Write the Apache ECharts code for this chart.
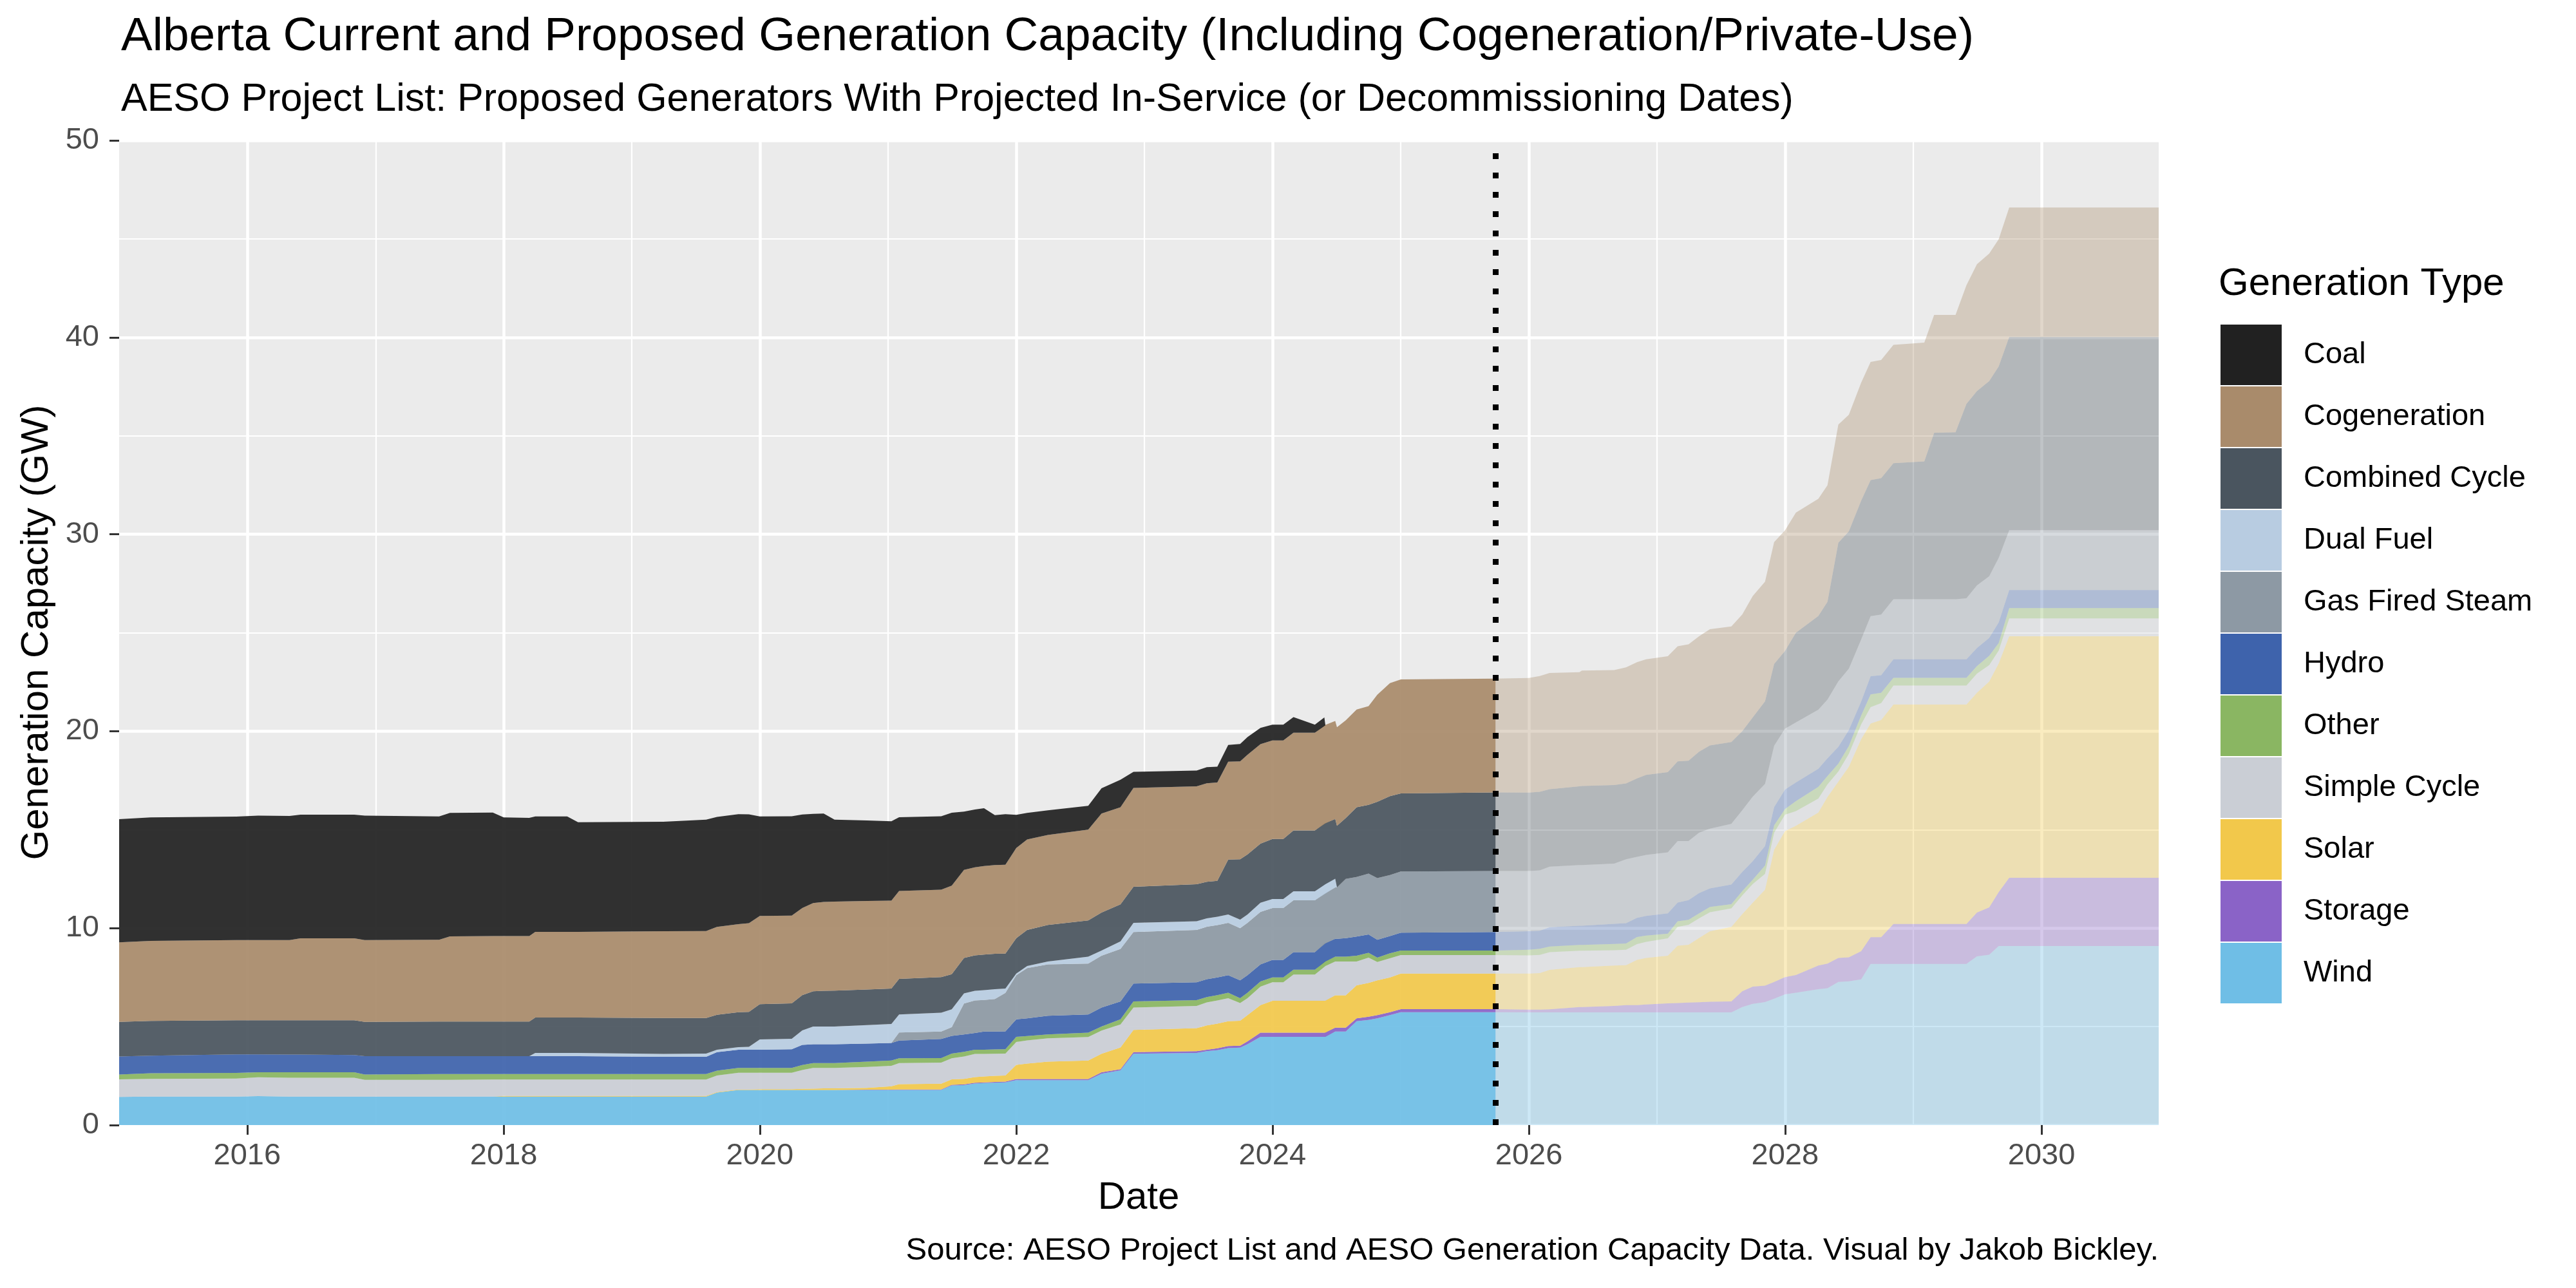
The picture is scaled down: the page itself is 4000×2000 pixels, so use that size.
<!DOCTYPE html>
<html>
<head>
<meta charset="utf-8">
<title>Alberta Current and Proposed Generation Capacity</title>
<script src="https://cdn.jsdelivr.net/npm/echarts@6/dist/echarts.min.js"></script>
<style>
  html, body { margin: 0; padding: 0; background: #fff; }
  #chart { width: 4000px; height: 2000px; }
</style>
</head>
<body>
<div id="chart"></div>
<script>
// historical capacity (GW per generation type)
const histDates = [
  '2015-01-01', '2015-04-01', '2015-12-01', '2016-02-01', '2016-05-01', '2016-06-01', '2016-11-01', '2016-12-01', '2017-07-01', '2017-08-01',
  '2017-12-01', '2018-01-01', '2018-03-15', '2018-04-01', '2018-07-01', '2018-08-01', '2019-04-01', '2019-08-01', '2019-09-01', '2019-11-01',
  '2019-12-01', '2020-01-01', '2020-04-01', '2020-05-01', '2020-06-01', '2020-07-01', '2020-08-01', '2020-11-01', '2021-01-10', '2021-02-01',
  '2021-06-01', '2021-07-01', '2021-08-05', '2021-09-05', '2021-10-01', '2021-11-01', '2021-12-01', '2022-01-01', '2022-02-01', '2022-04-01',
  '2022-07-25', '2022-09-01', '2022-10-25', '2022-12-01', '2023-05-30', '2023-06-28', '2023-07-28', '2023-08-28', '2023-10-01', '2023-10-22',
  '2023-11-28', '2024-01-01', '2024-02-01', '2024-03-01', '2024-05-01', '2024-05-28', '2024-05-31', '2024-06-28', '2024-07-03', '2024-07-28',
  '2024-08-28', '2024-10-01', '2024-10-26', '2024-12-01', '2025-01-01', '2025-09-28',
];
const histWind = [
  1.43, 1.45, 1.45, 1.47, 1.45, 1.45, 1.45, 1.45, 1.45, 1.45,
  1.45, 1.45, 1.45, 1.45, 1.45, 1.45, 1.45, 1.45, 1.65, 1.78,
  1.78, 1.78, 1.78, 1.78, 1.78, 1.78, 1.78, 1.78, 1.78, 1.78,
  1.78, 2.01, 2.03, 2.11, 2.13, 2.15, 2.17, 2.28, 2.28, 2.28,
  2.28, 2.61, 2.78, 3.62, 3.66, 3.75, 3.80, 3.91, 3.93, 4.10,
  4.48, 4.48, 4.48, 4.48, 4.48, 4.48, 4.48, 4.75, 4.75, 4.75,
  5.27, 5.34, 5.42, 5.58, 5.73, 5.73,
];
const histStorage = [
  0, 0, 0, 0, 0, 0, 0, 0, 0, 0,
  0, 0, 0, 0, 0, 0, 0, 0, 0, 0,
  0, 0, 0, 0, 0, 0, 0, 0.02, 0.02, 0.03,
  0.03, 0.03, 0.04, 0.04, 0.04, 0.04, 0.04, 0.06, 0.06, 0.06,
  0.06, 0.07, 0.06, 0.08, 0.09, 0.08, 0.10, 0.10, 0.10, 0.15,
  0.21, 0.21, 0.21, 0.21, 0.21, 0.21, 0.21, 0.20, 0.20, 0.20,
  0.15, 0.16, 0.16, 0.15, 0.16, 0.16,
];
const histSolar = [
  0, 0, 0, 0, 0, 0, 0, 0, 0, 0,
  0, 0.03, 0.03, 0.03, 0.03, 0.03, 0.03, 0.03, 0.03, 0.03,
  0.03, 0.04, 0.04, 0.06, 0.07, 0.08, 0.08, 0.09, 0.17, 0.27,
  0.29, 0.28, 0.28, 0.29, 0.30, 0.31, 0.31, 0.72, 0.78, 0.88,
  0.94, 0.94, 1.10, 1.13, 1.17, 1.23, 1.25, 1.26, 1.27, 1.33,
  1.40, 1.62, 1.62, 1.62, 1.62, 1.62, 1.62, 1.64, 1.64, 1.64,
  1.68, 1.72, 1.77, 1.77, 1.80, 1.80,
];
const histSimpleCycle = [
  0.89, 0.90, 0.91, 0.96, 0.95, 0.95, 0.95, 0.85, 0.85, 0.85,
  0.86, 0.83, 0.83, 0.83, 0.83, 0.83, 0.83, 0.83, 0.84, 0.85,
  0.85, 0.84, 0.84, 0.96, 1.05, 1.04, 1.04, 1.06, 1.04, 1.07,
  1.07, 1.07, 1.13, 1.17, 1.14, 1.12, 1.11, 1.16, 1.18, 1.19,
  1.19, 1.18, 1.17, 1.14, 1.13, 1.17, 1.18, 1.17, 0.90, 0.86,
  0.94, 0.94, 0.94, 1.33, 1.33, 1.77, 1.77, 1.72, 1.72, 1.72,
  1.21, 1.28, 0.93, 0.97, 0.94, 0.94,
];
const histOther = [
  0.25, 0.28, 0.29, 0.25, 0.28, 0.28, 0.28, 0.27, 0.29, 0.29,
  0.28, 0.28, 0.28, 0.28, 0.28, 0.28, 0.28, 0.28, 0.24, 0.24,
  0.24, 0.24, 0.24, 0.25, 0.25, 0.25, 0.25, 0.27, 0.27, 0.24,
  0.23, 0.24, 0.24, 0.22, 0.22, 0.22, 0.22, 0.26, 0.22, 0.19,
  0.22, 0.20, 0.26, 0.31, 0.29, 0.27, 0.27, 0.28, 0.24, 0.28,
  0.26, 0.25, 0.25, 0.25, 0.25, 0.23, 0.23, 0.24, 0.24, 0.24,
  0.29, 0.25, 0.22, 0.25, 0.23, 0.23,
];
const histHydro = [
  0.91, 0.89, 0.94, 0.91, 0.90, 0.90, 0.88, 0.93, 0.91, 0.91,
  0.91, 0.91, 0.91, 0.91, 0.91, 0.91, 0.88, 0.88, 0.94, 0.93,
  0.93, 0.93, 0.95, 1.02, 0.95, 0.95, 0.95, 0.92, 0.89, 0.90,
  0.97, 0.90, 0.88, 0.85, 0.92, 0.91, 0.91, 0.89, 0.90, 0.95,
  0.93, 0.97, 0.91, 0.91, 0.91, 0.91, 0.90, 0.89, 0.91, 0.89,
  0.87, 0.89, 0.89, 0.89, 0.89, 0.91, 0.91, 0.91, 0.91, 0.94,
  0.97, 0.93, 0.91, 0.88, 0.91, 0.94,
];
const histGasSteam = [
  0, 0, 0, 0, 0, 0, 0, 0, 0, 0,
  0, 0, 0, 0, 0, 0, 0, 0, 0, 0,
  0, 0, 0, 0, 0, 0, 0, 0, 0, 0.41,
  0.38, 0.44, 1.57, 1.65, 1.60, 1.65, 1.95, 2.24, 2.55, 2.61,
  2.58, 2.63, 2.66, 2.61, 2.66, 2.66, 2.65, 2.66, 2.65, 2.66,
  2.66, 2.63, 2.63, 2.63, 2.63, 2.54, 2.54, 2.61, 2.61, 3.01,
  3.03, 3.09, 3.13, 3.10, 3.11, 3.10,
];
const histDualFuel = [
  0, 0, 0, 0, 0, 0, 0, 0, 0, 0,
  0, 0, 0, 0.16, 0.16, 0.16, 0.14, 0.16, 0.13, 0.13,
  0.14, 0.52, 0.53, 0.74, 0.90, 0.90, 0.90, 0.94, 0.96, 0.92,
  0.96, 0.91, 0.52, 0.49, 0.50, 0.50, 0.22, 0.08, 0.11, 0.15,
  0.35, 0.26, 0.39, 0.47, 0.44, 0.43, 0.43, 0.42, 0.43, 0.42,
  0.47, 0.46, 0.46, 0.46, 0.46, 0.47, 0.47, 0.44, 0, 0,
  0, 0, 0, 0, 0, 0,
];
const histCombinedCycle = [
  1.76, 1.77, 1.73, 1.73, 1.74, 1.74, 1.76, 1.74, 1.76, 1.76,
  1.76, 1.76, 1.76, 1.80, 1.80, 1.80, 1.83, 1.81, 1.77, 1.77,
  1.78, 1.79, 1.80, 1.79, 1.79, 1.82, 1.83, 1.80, 1.80, 1.80,
  1.80, 1.78, 1.80, 1.80, 1.81, 1.80, 1.78, 1.80, 1.83, 1.85,
  1.84, 1.93, 1.88, 1.83, 1.88, 1.85, 1.82, 2.79, 3.07, 3.05,
  3.00, 3.05, 3.05, 3.09, 3.09, 3.09, 3.09, 3.03, 3.13, 3.09,
  3.54, 3.49, 3.88, 4.00, 3.96, 3.99,
];
const histCogeneration = [
  4.04, 4.06, 4.07, 4.07, 4.07, 4.16, 4.16, 4.15, 4.15, 4.32,
  4.34, 4.34, 4.34, 4.35, 4.35, 4.35, 4.40, 4.41, 4.46, 4.47,
  4.50, 4.48, 4.46, 4.42, 4.48, 4.51, 4.52, 4.50, 4.47, 4.47,
  4.44, 4.50, 4.47, 4.47, 4.49, 4.50, 4.51, 4.58, 4.59, 4.57,
  4.61, 5.03, 4.93, 5.02, 4.97, 5.01, 5.00, 4.97, 4.97, 5.06,
  5.05, 5.00, 5.00, 4.96, 4.96, 4.98, 4.98, 4.98, 5.00, 4.96,
  4.96, 5.01, 5.43, 5.74, 5.79, 5.78,
];
const histCoal = [
  6.25, 6.27, 6.27, 6.32, 6.31, 6.28, 6.28, 6.32, 6.26, 6.27,
  6.27, 6.02, 6.00, 5.86, 5.86, 5.57, 5.56, 5.66, 5.59, 5.59,
  5.53, 5.05, 5.04, 4.75, 4.53, 4.49, 4.16, 4.09, 4.03, 3.74,
  3.73, 3.70, 2.96, 2.93, 2.94, 2.54, 2.57, 1.68, 1.35, 1.25,
  1.21, 1.28, 1.40, 0.82, 0.80, 0.81, 0.80, 0.85, 0.88, 0.90,
  0.83, 0.80, 0.80, 0.80, 0.41, 0.40, 0, 0, 0, 0,
  0, 0, 0, 0, 0, 0,
];

// proposed projects (AESO project list), from the cut-off date onwards
const cutoffDate = '2025-09-28';
const projDates = [
  '2025-09-28', '2026-01-01', '2026-02-01', '2026-03-01', '2026-05-25', '2026-06-01', '2026-09-01', '2026-10-05', '2026-11-05', '2026-12-01',
  '2027-02-01', '2027-03-01', '2027-04-01', '2027-05-01', '2027-06-01', '2027-08-01', '2027-09-01', '2027-10-01', '2027-11-05', '2027-12-01',
  '2028-01-01', '2028-02-01', '2028-04-05', '2028-05-01', '2028-06-01', '2028-07-01', '2028-08-05', '2028-09-01', '2028-10-01', '2028-11-05',
  '2029-02-01', '2029-03-01', '2029-05-01', '2029-06-01', '2029-07-01', '2029-08-05', '2029-09-01', '2029-10-01', '2030-12-01',
];
const projWind = [
  5.73, 5.72, 5.72, 5.72, 5.72, 5.72, 5.72, 5.72, 5.72, 5.72,
  5.72, 5.72, 5.72, 5.72, 5.72, 5.72, 5.99, 6.16, 6.25, 6.42,
  6.64, 6.72, 6.90, 6.95, 7.27, 7.30, 7.40, 8.18, 8.18, 8.18,
  8.18, 8.18, 8.18, 8.18, 8.57, 8.65, 9.09, 9.09, 9.09,
];
const projStorage = [
  0.16, 0.14, 0.14, 0.16, 0.27, 0.27, 0.33, 0.37, 0.37, 0.40,
  0.46, 0.48, 0.50, 0.52, 0.54, 0.56, 0.80, 0.87, 0.83, 0.85,
  0.87, 0.90, 1.20, 1.25, 1.22, 1.22, 1.43, 1.36, 1.36, 2.03,
  2.03, 2.03, 2.03, 2.03, 2.22, 2.40, 2.74, 3.47, 3.47,
];
const projSolar = [
  1.80, 1.83, 1.86, 2.00, 2.03, 2.03, 2.05, 2.03, 2.30, 2.37,
  2.42, 2.91, 2.94, 3.26, 3.58, 3.78, 3.92, 4.26, 4.87, 6.71,
  7.42, 7.58, 7.77, 8.46, 8.95, 9.68, 10.77, 10.85, 11.03, 11.14,
  11.14, 11.14, 11.14, 11.14, 11.16, 11.47, 11.61, 12.26, 12.26,
];
const projSimpleCycle = [
  0.94, 0.93, 0.92, 0.90, 0.83, 0.83, 0.78, 0.78, 0.80, 0.81,
  0.88, 0.95, 1.01, 1.00, 0.97, 0.94, 0.95, 0.95, 0.80, 0.87,
  0.83, 0.74, 0.71, 0.64, 0.51, 0.65, 0.75, 0.83, 0.86, 0.97,
  0.97, 0.97, 0.97, 0.97, 0.97, 0.84, 0.65, 0.91, 0.91,
];
const projOther = [
  0.23, 0.28, 0.31, 0.29, 0.30, 0.30, 0.32, 0.32, 0.36, 0.32,
  0.24, 0.29, 0.25, 0.25, 0.27, 0.22, 0.22, 0.22, 0.43, 0.37,
  0.29, 0.51, 0.60, 0.42, 0.40, 0.40, 0.45, 0.65, 0.52, 0.39,
  0.39, 0.39, 0.39, 0.39, 0.39, 0.47, 0.39, 0.52, 0.52,
];
const projHydro = [
  0.94, 0.94, 0.92, 0.98, 0.97, 0.97, 1.02, 1.03, 0.97, 1.00,
  1.03, 0.95, 1.00, 1.03, 0.94, 0.99, 0.97, 0.94, 0.99, 0.93,
  0.99, 0.95, 0.91, 0.90, 0.85, 0.81, 0.70, 0.92, 0.89, 0.94,
  0.94, 0.94, 0.94, 0.94, 0.91, 0.91, 1.04, 0.92, 0.92,
];
const projGasSteam = [
  3.10, 3.06, 3.06, 3.07, 3.08, 3.08, 3.06, 3.25, 3.10, 3.10,
  3.10, 3.12, 3.00, 3.07, 3.03, 3.09, 3.13, 3.28, 3.15, 3.11,
  3.09, 3.05, 3.00, 2.99, 3.33, 3.12, 3.16, 3.05, 3.08, 3.05,
  3.05, 3.05, 3.05, 3.10, 3.18, 3.13, 3.28, 3.04, 3.04,
];
const projCombinedCycle = [
  3.99, 3.98, 3.99, 3.93, 4.00, 4.02, 3.99, 3.85, 3.98, 4.06,
  4.07, 4.05, 4.08, 4.11, 4.23, 4.15, 4.02, 4.02, 4.20, 4.15,
  3.95, 4.55, 4.76, 4.96, 7.04, 6.97, 7.04, 6.91, 6.93, 6.91,
  7.00, 8.45, 8.48, 9.87, 9.87, 9.91, 9.72, 9.81, 9.81,
];
const projCogeneration = [
  5.78, 5.82, 5.88, 5.91, 5.80, 5.86, 5.83, 5.89, 5.90, 5.87,
  5.89, 5.84, 5.91, 5.86, 5.90, 5.87, 5.92, 6.16, 6.07, 6.19,
  6.12, 6.10, 5.95, 5.92, 6.00, 5.92, 6.00, 6.00, 6.00, 6.01,
  6.03, 5.99, 5.96, 6.02, 6.44, 6.47, 6.46, 6.57, 6.57,
];

const typeNames = ['Wind', 'Storage', 'Solar', 'Simple Cycle', 'Other', 'Hydro',
  'Gas Fired Steam', 'Dual Fuel', 'Combined Cycle', 'Cogeneration', 'Coal'];
const histSeries = [histWind, histStorage, histSolar, histSimpleCycle, histOther, histHydro,
  histGasSteam, histDualFuel, histCombinedCycle, histCogeneration, histCoal];
const projSeries = [projWind, projStorage, projSolar, projSimpleCycle, projOther, projHydro,
  projGasSteam, null, projCombinedCycle, projCogeneration, null];
const axisStart = '2015-01-01';
const axisEnd = '2030-12-01';
const majorYears = ['2016-01-01', '2018-01-01', '2020-01-01', '2022-01-01', '2024-01-01', '2026-01-01', '2028-01-01', '2030-01-01'];
const minorYears = ['2017-01-01', '2019-01-01', '2021-01-01', '2023-01-01', '2025-01-01', '2027-01-01', '2029-01-01'];

const palette = {
  'Coal': '#212121',
  'Cogeneration': '#A98B6B',
  'Combined Cycle': '#4A555F',
  'Dual Fuel': '#B8CCE1',
  'Gas Fired Steam': '#8D99A4',
  'Hydro': '#3E63AC',
  'Other': '#8AB662',
  'Simple Cycle': '#CACED5',
  'Solar': '#F2C84B',
  'Storage': '#8A63C7',
  'Wind': '#6FBEE6',
};
const font = "'Liberation Sans', Arial, sans-serif";

// every date as UTC milliseconds so the time axis and the tick axes line up
const ts = (s) => Date.parse(s + 'T00:00:00Z');

const makeArea = (name, dates, values, stack, opacity) => ({
  name,
  type: 'line',
  xAxisIndex: 0,
  stack,
  data: dates.map((d, i) => [ts(d), values[i]]),
  symbol: 'none',
  showSymbol: false,
  lineStyle: { width: 0 },
  itemStyle: { color: palette[name] },
  areaStyle: { color: palette[name], opacity },
  emphasis: { disabled: true },
});

const series = [];
typeNames.forEach((name, i) => {
  series.push(makeArea(name, histDates, histSeries[i], 'hist', 0.93));
});
typeNames.forEach((name, i) => {
  if (projSeries[i]) series.push(makeArea(name, projDates, projSeries[i], 'proj', 0.35));
});
series[series.length - 1].markLine = {
  symbol: 'none',
  silent: true,
  label: { show: false },
  lineStyle: { color: '#000', width: 9, type: [9, 21], cap: 'butt' },
  data: [{ xAxis: ts(cutoffDate) }],
};

const text = (t, x, y, size, extra) => ({
  type: 'text', x, y, silent: true,
  style: Object.assign({ text: t, fontSize: size, fontFamily: font, fill: '#000', align: 'left', verticalAlign: 'middle' }, extra || {}),
});

// tick-only axes: same extent as the time axis, fixed year positions
const yearAxis = (values, width, showTicks) => ({
  type: 'value',
  min: ts(axisStart),
  max: ts(axisEnd),
  position: 'bottom',
  axisLine: { show: false },
  axisTick: { show: showTicks, length: 15, customValues: values.map(ts), lineStyle: { color: '#333333', width: 3 } },
  axisLabel: {
    show: showTicks,
    customValues: values.map(ts),
    fontSize: 47, fontFamily: font, color: '#4D4D4D', margin: 25,
    formatter: (v) => String(new Date(v).getUTCFullYear()),
  },
  splitLine: { show: true, lineStyle: { color: '#FFFFFF', width } },
});

const chart = echarts.init(document.getElementById('chart'));
chart.setOption({
  animation: false,
  backgroundColor: '#fff',
  grid: { left: 185, right: 648, top: 218, bottom: 253, show: true, backgroundColor: '#EBEBEB', borderWidth: 0 },
  xAxis: [
    { type: 'time', min: ts(axisStart), max: ts(axisEnd), show: false },
    yearAxis(majorYears, 4.5, true),
    yearAxis(minorYears, 2.2, false),
  ],
  yAxis: {
    type: 'value',
    min: 0,
    max: 50,
    interval: 10,
    axisLine: { show: false },
    axisTick: { show: true, length: 15, lineStyle: { color: '#333333', width: 3 } },
    axisLabel: { fontSize: 47, fontFamily: font, color: '#4D4D4D', margin: 31 },
    splitLine: { show: true, lineStyle: { color: '#FFFFFF', width: 4.5 } },
    minorTick: { show: false, splitNumber: 2 },
    minorSplitLine: { show: true, lineStyle: { color: '#FFFFFF', width: 2.2 } },
  },
  legend: {
    data: typeNames.slice().reverse(),
    orient: 'vertical',
    left: 3443,
    top: 499,
    icon: 'rect',
    itemWidth: 95,
    itemHeight: 94,
    itemGap: 2,
    selectedMode: false,
    itemStyle: { borderWidth: 0, opacity: 1 },
    textStyle: { fontSize: 47, fontFamily: font, color: '#000', padding: [0, 0, 0, 29] },
  },
  graphic: [
    text('Alberta Current and Proposed Generation Capacity (Including Cogeneration/Private-Use)', 188, 58, 73),
    text('AESO Project List: Proposed Generators With Projected In-Service (or Decommissioning Dates)', 188, 155, 61),
    text('Generation Type', 3445, 441, 60),
    text('Date', 1768, 1860, 60, { align: 'center' }),
    Object.assign(text('Generation Capacity (GW)', 57, 982, 60, { align: 'center' }), { rotation: Math.PI / 2 }),
    text('Source: AESO Project List and AESO Generation Capacity Data. Visual by Jakob Bickley.', 3352, 1942, 49, { align: 'right' }),
  ],
  series,
});

window.addEventListener('resize', () => chart.resize());
</script>
</body>
</html>
